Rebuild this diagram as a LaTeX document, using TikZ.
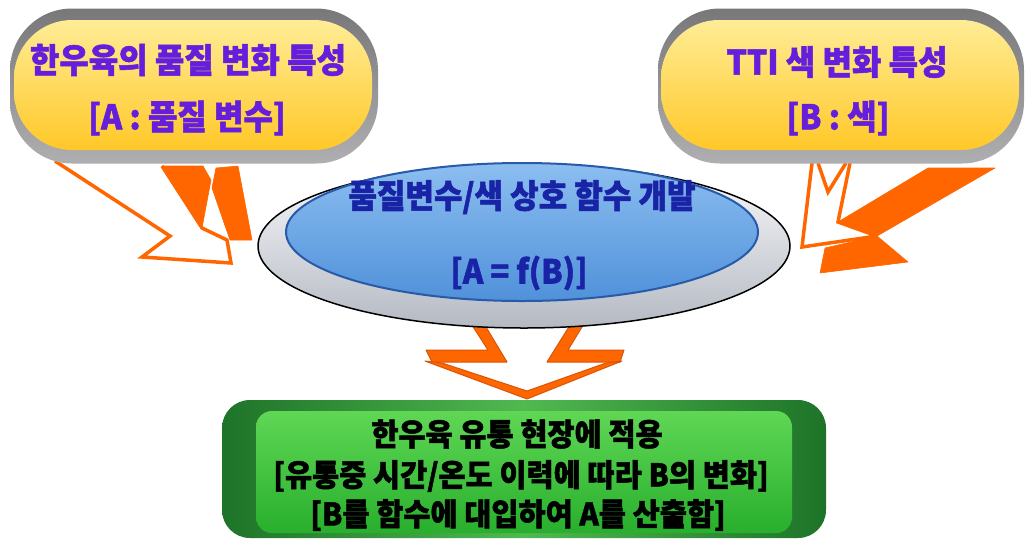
\documentclass[tikz,border=0pt]{standalone}
\usepackage{fontspec}
\newfontfamily\kr{Noto Sans CJK KR}[BoldFeatures={FakeBold=1.6}]
\usetikzlibrary{shapes.geometric}
\definecolor{pilltext}{RGB}{100,30,220}
\definecolor{elltext}{RGB}{25,35,165}
\definecolor{arr}{RGB}{255,102,0}
\definecolor{arrd}{RGB}{215,85,10}
\definecolor{yelTop}{RGB}{255,236,150}
\definecolor{yelBot}{RGB}{255,200,40}
\definecolor{shadowTop}{RGB}{120,120,122}
\definecolor{shadowBot}{RGB}{175,175,178}
\definecolor{blueTop}{RGB}{140,190,240}
\definecolor{blueMid}{RGB}{185,220,248}
\definecolor{blueBot}{RGB}{80,145,218}
\definecolor{blueEdge}{RGB}{40,90,170}
\definecolor{ringTop}{RGB}{250,250,252}
\definecolor{ringBot}{RGB}{180,185,194}
\definecolor{gDark}{RGB}{30,115,40}
\definecolor{gMid}{RGB}{80,185,80}
\definecolor{gIn}{RGB}{95,215,85}
\definecolor{gInBot}{RGB}{40,175,45}
\begin{document}
\begin{tikzpicture}[x=1pt,y=-1pt,
  shadowpill/.style={rounded corners=62pt, top color=shadowTop, bottom color=shadowBot, draw=none},
  pill/.style={rounded corners=58pt, top color=yelTop, bottom color=yelBot, draw=none},
  pilltxt/.style={text=pilltext, font=\kr\bfseries\fontsize{34}{38}\selectfont, inner sep=0pt},
  elltxt/.style={text=elltext, font=\kr\bfseries\fontsize{33}{37}\selectfont, inner sep=0pt},
  apptxt/.style={text=black, font=\kr\bfseries\fontsize{31}{35}\selectfont, inner sep=0pt},
  face/.style={fill=white, draw=arr, line width=3.5pt, line join=miter, miter limit=4},
  block/.style={fill=arr, draw=arr, line width=0.6pt, line join=round},
  vline/.style={draw=arr, line width=3.5pt}
]
\fill[white] (0,0) rectangle (1026,539);
\useasboundingbox (0,0) rectangle (1026,539);

% ---------- left arrow ----------
\draw[face] (55,161) -- (170,236) -- (142,257) -- (231,263) -- (227,240) -- (202,228) -- (162,166);
\draw[block] (162,166) -- (203,166) -- (211,180) -- (202,228) -- cycle;
\draw[block] (216,168) -- (238,166) -- (252,240) -- (230,240) -- (212,188) -- cycle;

% ---------- right arrow ----------
\draw[face] (812,163) -- (802,247) -- (877,236) -- (838,222) -- (850,163);
\draw[vline] (818,163) -- (828,192) -- (846,163);
\draw[block] (928,168) -- (995,168) -- (877,236) -- (838,222) -- cycle;
\draw[block] (825,248) -- (877,236) -- (908,262) -- (820,273) -- cycle;

% ---------- bottom arrow ----------
\draw[block, draw=arrd, line width=1pt] (470,322) -- (483,322) -- (507,362) -- (432,362) -- (426,350) -- (488,350) -- cycle;
\draw[block, draw=arrd, line width=1pt] (572,322) -- (585,322) -- (568,350) -- (624,350) -- (620,362) -- (547,362) -- cycle;
\draw[block, draw=arrd, line width=1pt] (425,361) -- (527,399) -- (622,361) -- (606,363) -- (527,391) -- (442,363) -- cycle;

% ---------- left pill ----------
\node[shadowpill, minimum width=368pt, minimum height=155pt] (qaShadow) at (194,86) {};
\node[pill, minimum width=358pt, minimum height=130pt] (qa) at (193,85) {};
\node[pilltxt] (qa1) at (188,60) {\scalebox{0.94}[1]{한우육의 품질 변화 특성}};
\node[pilltxt] (qa2) at (187,118) {\scalebox{0.94}[1]{[A : 품질 변수]}};

% ---------- right pill ----------
\node[shadowpill, minimum width=366pt, minimum height=155pt] (ttiShadow) at (841,86) {};
\node[pill, minimum width=358pt, minimum height=130pt] (tti) at (840,85) {};
\node[pilltxt] (tti1) at (837,62) {\scalebox{0.94}[1]{TTI 색 변화 특성}};
\node[pilltxt] (tti2) at (838,118) {\scalebox{0.94}[1]{[B : 색]}};

% ---------- central ellipse ----------
\coordinate (fnOuter) at (524,246);
\coordinate (fn) at (522,232);
\path[top color=ringTop, bottom color=ringBot, draw=black, line width=1.5pt] (fnOuter) ellipse [x radius=266, y radius=82];
\path[top color=blueTop, middle color=blueMid, bottom color=blueBot, draw=blueEdge, line width=2pt] (fn) ellipse [x radius=236, y radius=69];
\node[elltxt] (fn1) at (522,197) {\scalebox{0.94}[1]{품질변수/색 상호 함수 개발}};
\node[elltxt] (fn2) at (519,273) {\scalebox{0.94}[1]{[A = f(B)]}};

% ---------- green box ----------
\node[rounded corners=28pt, minimum width=604pt, minimum height=138pt, left color=gDark, right color=gDark, middle color=gMid, draw=none] (appOuter) at (524,469) {};
\node[rounded corners=16pt, minimum width=536pt, minimum height=122pt, top color=gIn, bottom color=gInBot, draw=none] (app) at (524,472) {};
\node[apptxt] (app1) at (517,434) {\scalebox{0.95}[1]{한우육 유통 현장에 적용}};
\node[apptxt] (app2) at (521,476) {\scalebox{0.95}[1]{[유통중 시간/온도 이력에 따라 B의 변화]}};
\node[apptxt] (app3) at (518,515) {\scalebox{0.95}[1]{[B를 함수에 대입하여 A를 산출함]}};
\end{tikzpicture}
\end{document}
